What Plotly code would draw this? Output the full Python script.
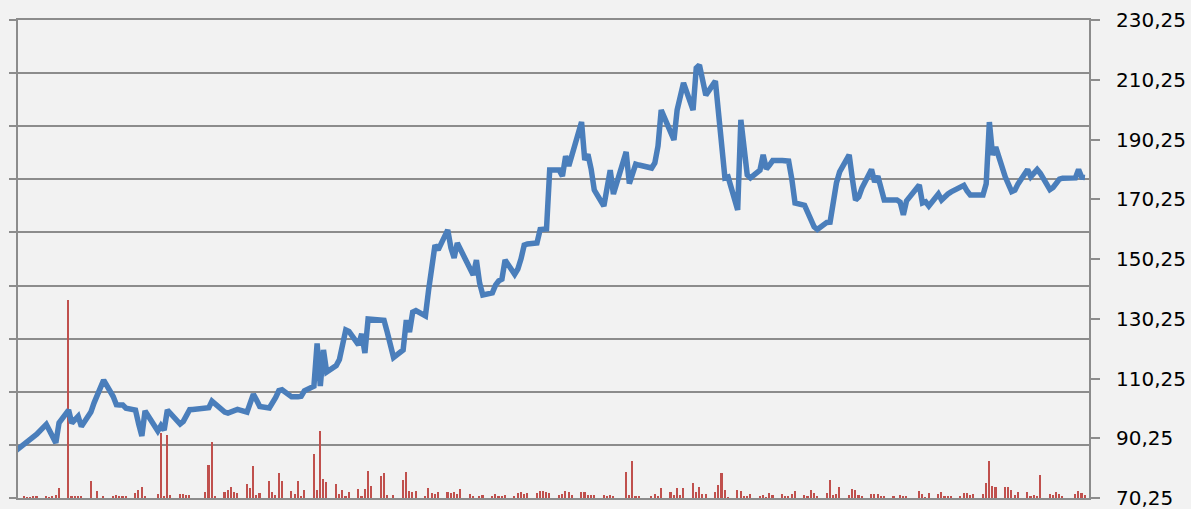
import pandas as pd
import plotly.graph_objects as go

# ---- data (one value per trading day, first entry is the Friday before the first full week) ----
first_trading_day = "2013-01-04"

price = [
    85.7,
    88.2, 89.0, 89.8, 90.6, 91.6,
    94.9, 92.8, 90.8, 88.7, 95.4,
    99.7, 95.3, 96.8, 97.6, 94.2,
    99.0, 102.1, 104.9, 107.6, 109.7,
    104.2, 101.5, 101.4, 101.4, 100.3,
    99.7, 95.0, 91.0, 99.4, 97.6,
    92.7, 94.5, 93.0, 99.7, 98.6,
    95.0, 95.9, 97.9, 99.8, 99.9,
    100.1, 100.2, 100.5, 102.7, 101.7,
    99.0, 98.7, 99.2, 99.5, 99.9,
    99.0, 102.0, 105.0, 103.0, 100.9,
    100.4, 101.8, 103.9, 106.2, 106.5,
    104.1, 104.0, 104.1, 104.3, 106.1,
    107.7, 122.0, 107.7, 119.8, 112.4,
    114.6, 116.6, 120.8, 126.5, 126.0,
    121.5, 125.2, 118.8, 130.2, 130.1,
    130.1, 129.7, 125.8, 121.5, 117.3,
    119.8, 129.8, 125.8, 132.5, 133.0,
    131.2, 139.9, 147.6, 154.9, 153.3,
    160.0, 154.0, 150.6, 155.6, 153.6,
    147.1, 144.9, 149.9, 142.2, 138.2,
    138.9, 141.5, 142.9, 143.5, 149.9,
    145.1, 146.9, 150.3, 154.9, 155.3,
    155.6, 160.1, 160.2, 160.3, 180.0,
    180.0, 178.0, 184.7, 181.4, 184.9,
    196.1, 183.4, 185.3, 180.4, 173.3,
    168.0, 174.7, 180.0, 172.0, 175.6,
    186.1, 175.5, 179.2, 182.0, 181.7,
    181.0, 180.7, 182.4, 188.1, 200.1,
    191.8, 190.1, 200.1, 204.8, 209.2,
    200.1, 214.2, 215.2, 210.0, 205.1,
    209.8, 197.5, 185.7, 177.4, 177.7,
    166.7, 196.8, 186.7, 178.4, 177.4,
    180.0, 185.1, 180.4, 181.7, 183.2,
    183.2, 183.3, 183.0, 177.0, 169.0,
    168.2, 165.6, 162.9, 161.0, 160.1,
    162.5, 162.6, 170.0, 175.7, 179.4,
    185.1, 177.1, 170.0, 171.0, 174.0,
    180.2, 176.0, 178.0, 173.4, 170.0,
    170.0, 170.0, 169.3, 165.0, 169.7,
    173.7, 175.0, 169.0, 169.4, 168.0,
    172.0, 170.0, 171.3, 172.0, 172.7,
    174.5, 174.9, 173.0, 171.7, 171.7,
    171.7, 175.4, 196.1, 185.1, 187.7,
    177.7, 175.2, 172.8, 173.3, 175.4,
    180.2, 177.8, 179.0, 180.2, 178.9,
    173.5, 174.2, 175.7, 177.0, 177.3,
    177.3, 177.4, 180.2, 177.6, 177.5,
]

volume = [
    0,
    19, 6, 6, 19, 19,
    24, 13, 43, 51, 194,
    3728, 24, 19, 43, 19,
    320, 0, 126, 0, 24,
    24, 62, 24, 24, 38,
    94, 145, 201, 24, 0,
    81, 1224, 43, 1186, 62,
    81, 70, 62, 62, 0,
    0, 119, 621, 1054, 43,
    113, 156, 213, 113, 89,
    269, 194, 608, 62, 89,
    326, 107, 62, 471, 326,
    126, 75, 314, 43, 156,
    829, 145, 1267, 363, 296,
    269, 81, 156, 43, 119,
    175, 24, 169, 508, 220,
    420, 471, 62, 0, 62,
    333, 484, 137, 107, 132,
    43, 188, 89, 81, 107,
    107, 100, 107, 81, 175,
    70, 24, 0, 43, 62,
    24, 70, 38, 24, 51,
    43, 100, 107, 81, 100,
    100, 137, 137, 113, 100,
    62, 70, 137, 113, 51,
    107, 107, 62, 62, 62,
    51, 43, 56, 43, 0,
    484, 62, 691, 32, 32,
    0, 43, 70, 32, 183,
    107, 51, 194, 56, 194,
    282, 107, 207, 81, 81,
    119, 245, 465, 145, 6,
    156, 132, 19, 32, 81,
    19, 51, 6, 100, 51,
    81, 24, 19, 81, 137,
    62, 38, 156, 94, 43,
    100, 345, 56, 81, 207,
    62, 175, 151, 56, 38,
    81, 75, 75, 43, 43,
    38, 0, 51, 43, 43,
    0, 132, 75, 9, 100,
    75, 113, 43, 32, 24,
    38, 100, 100, 62, 81,
    75, 288, 691, 232, 213,
    213, 213, 156, 51, 119,
    113, 43, 62, 43, 439,
    81, 62, 119, 70, 43,
    0, 70, 132, 100, 56,
]

price_ticks_min = 70.25
price_ticks_max = 230.25
price_step = 20
volume_max = 9000
volume_step = 1000

# ---- figure ----
dates = pd.bdate_range(start=first_trading_day, periods=len(price))
first_monday = dates[1]
x_start = first_monday - pd.Timedelta(days=1.88)
x_end = first_monday + pd.Timedelta(days=334.27)

grid_color = "#8C8C8C"
day_ms = 86400000

fig = go.Figure()
fig.add_trace(go.Bar(
    x=dates, y=volume, yaxis="y",
    marker=dict(color="#C0504D", line=dict(width=0)),
    width=0.5 * day_ms,
    hoverinfo="skip",
))
fig.add_trace(go.Scatter(
    x=dates, y=price, yaxis="y2", mode="lines",
    line=dict(color="#4A7EBB", width=5.5),
))

fig.update_layout(
    width=1191, height=509,
    margin=dict(l=18, r=102, t=20, b=11, autoexpand=False),
    paper_bgcolor="#F2F2F2",
    plot_bgcolor="#F2F2F2",
    showlegend=False,
    separators=",.",
    bargap=0,
    xaxis=dict(
        type="date", range=[x_start, x_end], automargin=False,
        showgrid=False, showticklabels=False, zeroline=False,
        showline=True, mirror=True, linecolor=grid_color, linewidth=2,
        ticks="",
    ),
    yaxis=dict(
        range=[0, volume_max], dtick=volume_step, tick0=0, automargin=False,
        showgrid=True, gridcolor=grid_color, gridwidth=2,
        showticklabels=False, zeroline=False,
        showline=True, linecolor=grid_color, linewidth=2,
        ticks="outside", ticklen=7, tickcolor=grid_color, tickwidth=2,
    ),
    yaxis2=dict(
        overlaying="y", side="right", automargin=False,
        range=[price_ticks_min, price_ticks_max],
        tick0=price_ticks_min, dtick=price_step, tickformat=".2f",
        showgrid=False, zeroline=False,
        showline=True, linecolor=grid_color, linewidth=2,
        ticks="outside", ticklen=9, tickcolor=grid_color, tickwidth=2,
        ticklabelstandoff=12, ticklabeloverflow="allow",
        tickfont=dict(family="DejaVu Sans", size=20, color="#000000"),
    ),
)

fig.write_html(
    "out.html",
    config={"displayModeBar": False},
    post_script="document.body.style.margin='0px';",
)
